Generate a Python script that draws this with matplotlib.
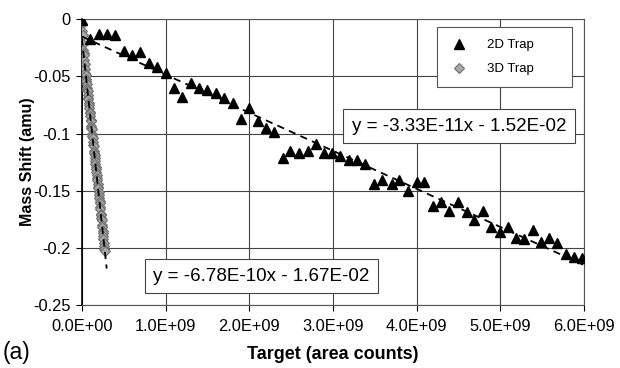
import numpy as np
from matplotlib import pyplot as plt
from matplotlib.ticker import MultipleLocator, FuncFormatter

# 2D trap: target area (x 1e9 counts) vs mass shift (amu)
x_2d = [0.00, 0.10, 0.20, 0.30, 0.40, 0.50, 0.60, 0.69, 0.80, 0.90,
        1.00, 1.10, 1.20, 1.30, 1.40, 1.50, 1.60, 1.70, 1.80, 1.90,
        2.00, 2.10, 2.20, 2.30, 2.40, 2.49, 2.59, 2.70, 2.80, 2.89,
        2.99, 3.09, 3.19, 3.29, 3.38, 3.49, 3.59, 3.70, 3.79, 3.90,
        4.00, 4.09, 4.19, 4.29, 4.39, 4.49, 4.60, 4.69, 4.79, 4.89,
        4.99, 5.09, 5.19, 5.28, 5.39, 5.49, 5.58, 5.68, 5.79, 5.88, 5.98]
y_2d = [-0.001, -0.017, -0.013, -0.013, -0.014, -0.028, -0.031, -0.029, -0.038, -0.042,
        -0.047, -0.060, -0.068, -0.056, -0.060, -0.062, -0.065, -0.069, -0.073, -0.087,
        -0.078, -0.089, -0.095, -0.099, -0.121, -0.115, -0.117, -0.115, -0.109, -0.117,
        -0.117, -0.120, -0.123, -0.123, -0.127, -0.144, -0.141, -0.144, -0.141, -0.150,
        -0.142, -0.142, -0.163, -0.160, -0.168, -0.160, -0.169, -0.176, -0.168, -0.182,
        -0.186, -0.182, -0.191, -0.192, -0.184, -0.195, -0.191, -0.196, -0.205, -0.208, -0.209]

# 3D trap: target area (x 1e8 counts) vs mass shift (amu)
x_3d = [0.03, 0.06, 0.09, 0.13, 0.17, 0.20, 0.24, 0.27, 0.31, 0.35,
        0.38, 0.42, 0.46, 0.49, 0.53, 0.57, 0.60, 0.64, 0.68, 0.71,
        0.75, 0.79, 0.82, 0.86, 0.90, 0.93, 0.97, 1.01, 1.04, 1.08,
        1.12, 1.15, 1.19, 1.23, 1.26, 1.30, 1.34, 1.37, 1.41, 1.45,
        1.48, 1.52, 1.56, 1.59, 1.63, 1.67, 1.70, 1.74, 1.78, 1.81,
        1.85, 1.89, 1.92, 1.96, 2.00, 2.03, 2.07, 2.11, 2.14, 2.18,
        2.22, 2.25, 2.29, 2.33, 2.36, 2.40, 2.44, 2.47, 2.51, 2.55,
        2.58, 2.62, 2.66, 2.70, 2.75]
y_3d = [-0.004, -0.010, -0.014, -0.022, -0.027, -0.030, -0.031, -0.036, -0.040, -0.039,
        -0.044, -0.047, -0.049, -0.052, -0.054, -0.057, -0.060, -0.062, -0.063, -0.066,
        -0.069, -0.070, -0.073, -0.075, -0.078, -0.081, -0.082, -0.085, -0.088, -0.089,
        -0.093, -0.095, -0.096, -0.100, -0.102, -0.104, -0.107, -0.110, -0.111, -0.115,
        -0.117, -0.119, -0.121, -0.124, -0.127, -0.129, -0.131, -0.134, -0.136, -0.139,
        -0.141, -0.144, -0.147, -0.148, -0.151, -0.154, -0.156, -0.159, -0.161, -0.164,
        -0.166, -0.170, -0.171, -0.174, -0.176, -0.180, -0.182, -0.185, -0.187, -0.190,
        -0.192, -0.196, -0.198, -0.201, -0.203]

# linear fits (slope, intercept) and extent of each trend line
fit_2d = (-3.33e-11, -1.52e-02)
fit_3d = (-6.78e-10, -1.67e-02)
xend_2d = 6.0e9
xend_3d = 2.97e8

x_2d = np.array(x_2d) * 1e9
x_3d = np.array(x_3d) * 1e8

plt.rcParams['font.family'] = ['Liberation Sans', 'DejaVu Sans']

fig = plt.figure(figsize=(6.2, 3.68), dpi=100)
ax = fig.add_axes([0.132, 0.171, 0.81, 0.777])

ax.plot(x_3d, y_3d, 'D', ms=5.5, mfc='#a8a8a8', mec='#707070', mew=0.8,
        label='3D Trap', zorder=3)
ax.plot(x_2d, y_2d, '^', ms=7, color='black', label='2D Trap', zorder=3)

# trend lines
for (m, b), xe in [(fit_2d, xend_2d), (fit_3d, xend_3d)]:
    xs = np.array([0, xe])
    ax.plot(xs, m*xs + b, '--', color='black', lw=1.3, dashes=(4, 3), zorder=4)

ax.set_xlim(0, 6e9)
ax.set_ylim(-0.25, 0)
ax.xaxis.set_major_locator(MultipleLocator(1e9))
ax.yaxis.set_major_locator(MultipleLocator(0.05))
ax.xaxis.set_major_formatter(FuncFormatter(lambda v, p: f'{v:.1E}'))
ax.yaxis.set_major_formatter(FuncFormatter(lambda v, p: f'{v:g}' if abs(v) > 1e-9 else '0'))
ax.tick_params(labelsize=11.8, direction='out', length=4, width=0.8)
ax.tick_params(axis='x', pad=6)
ax.tick_params(axis='y', pad=4)

ax.grid(True, color='#444444', lw=0.8)
ax.set_axisbelow(True)
for s in ['top', 'right', 'bottom']:
    ax.spines[s].set_color('#555555')
    ax.spines[s].set_linewidth(0.8)
ax.spines['left'].set_linewidth(1.2)

ax.set_xlabel('Target (area counts)', fontsize=13, fontweight='bold', labelpad=9)
ax.set_ylabel('Mass Shift (amu)', fontsize=11.5, fontweight='bold', labelpad=-1)

h, l = ax.get_legend_handles_labels()
leg = ax.legend(h[::-1], l[::-1], loc='upper left', bbox_to_anchor=(0.707, 0.972, 0.269, 0.0),
                mode='expand', borderaxespad=0, fontsize=9.5, fancybox=False, framealpha=1,
                edgecolor='#555555', handletextpad=1.4, borderpad=0.9,
                labelspacing=0.9, handlelength=1.5)
leg.get_frame().set_linewidth(0.8)

box = dict(boxstyle='square,pad=0.45', fc='white', ec='#444444', lw=0.8)
ax.text(0.751, 0.626, f'y = {fit_2d[0]:.2E}x - {abs(fit_2d[1]):.2E}',
        transform=ax.transAxes, ha='center', va='center', fontsize=13.5, bbox=box, zorder=5)
ax.text(0.357, 0.101, f'y = {fit_3d[0]:.2E}x - {abs(fit_3d[1]):.2E}',
        transform=ax.transAxes, ha='center', va='center', fontsize=13.5, bbox=box, zorder=5)

fig.text(0.005, 0.025, '(a)', fontsize=16.5)

fig.savefig('out.png', dpi=100)
